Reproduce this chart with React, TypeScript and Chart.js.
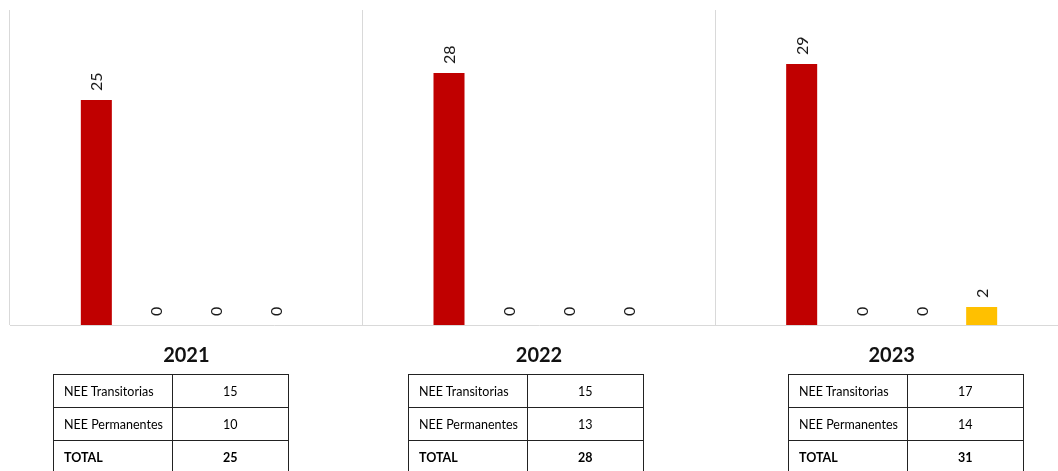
import React, { useEffect, useRef } from "react";
import { Chart, registerables } from "chart.js";

Chart.register(...registerables);

const years = ["2021", "2022", "2023"];
const seriesRed = [25, 28, 29];
const seriesB = [0, 0, 0];
const seriesC = [0, 0, 0];
const seriesYellow = [0, 0, 2];

const tableLabels = ["NEE Transitorias", "NEE Permanentes", "TOTAL"];
const transitorias = [15, 15, 17];
const permanentes = [10, 13, 14];
const totals = [25, 28, 31];
const tableLefts = [53, 408, 788];

const valueLabelPlugin = {
  id: "valueLabels",
  afterDatasetsDraw(chart: any) {
    const ctx = chart.ctx;
    ctx.save();
    ctx.font = "16px Lato";
    ctx.fillStyle = "#1a1a1a";
    ctx.textAlign = "left";
    ctx.textBaseline = "middle";
    chart.data.datasets.forEach((ds: any, di: number) => {
      const meta = chart.getDatasetMeta(di);
      meta.data.forEach((el: any, i: number) => {
        const v = ds.data[i];
        ctx.save();
        ctx.translate(el.x + 1, el.y - 9);
        ctx.rotate(-Math.PI / 2);
        ctx.fillText(String(v), 0, 0);
        ctx.restore();
      });
    });
    ctx.restore();
  },
};

function ChartBox() {
  const ref = useRef<HTMLCanvasElement | null>(null);
  useEffect(() => {
    if (!ref.current) return;
    const chart = new Chart(ref.current, {
      type: "bar",
      data: {
        labels: years,
        datasets: [
          { label: "Serie 1", data: seriesRed, backgroundColor: "#C00000" },
          { label: "Serie 2", data: seriesB, backgroundColor: "#A5A5A5" },
          { label: "Serie 3", data: seriesC, backgroundColor: "#4472C4" },
          { label: "Serie 4", data: seriesYellow, backgroundColor: "#FFC000" },
        ],
      },
      options: {
        responsive: false,
        animation: false,
        layout: { padding: { left: 10, right: 12, top: 10, bottom: 4 } },
        datasets: {
          bar: { categoryPercentage: 0.6805, barPercentage: 0.517 },
        },
        plugins: {
          legend: { display: false },
          tooltip: { enabled: false },
        },
        scales: {
          x: {
            grid: { display: true, color: "#d9d9d9", drawTicks: false, offset: true },
            border: { display: true, color: "#d9d9d9" },
            ticks: {
              color: "#111",
              font: { family: "Lato", size: 20, weight: "bold" },
              padding: 19,
              maxRotation: 0,
            },
          },
          y: {
            display: false,
            min: 0,
            max: 35,
          },
        },
      },
      plugins: [valueLabelPlugin],
    });
    return () => chart.destroy();
  }, []);
  return <canvas ref={ref} width={1080} height={391} />;
}

const cellBase: React.CSSProperties = {
  border: "1.5px solid #222",
  height: 33,
  padding: 0,
  boxSizing: "border-box",
};

export default function App() {
  return (
    <div
      style={{
        position: "fixed",
        left: 0,
        top: 0,
        width: 1058,
        height: 471,
        overflow: "hidden",
        background: "#fff",
        fontFamily: "Lato, sans-serif",
      }}
    >
      <div style={{ position: "absolute", left: 0, top: 0, width: 1080, height: 391 }}>
        <ChartBox />
      </div>
      {years.map((y, gi) => (
        <table
          key={y}
          style={{
            position: "absolute",
            left: tableLefts[gi],
            top: 374,
            width: 236,
            borderCollapse: "collapse",
            fontSize: 12.5,
            color: "#000",
          }}
        >
          <tbody>
            {tableLabels.map((lab, ri) => {
              const val = ri === 0 ? transitorias[gi] : ri === 1 ? permanentes[gi] : totals[gi];
              const bold = ri === 2;
              return (
                <tr key={lab}>
                  <td
                    style={{
                      ...cellBase,
                      width: 119,
                      paddingLeft: 10,
                      textAlign: "left",
                      fontWeight: bold ? 700 : 400,
                    }}
                  >
                    {lab}
                  </td>
                  <td
                    style={{
                      ...cellBase,
                      width: 117,
                      textAlign: "center",
                      fontWeight: bold ? 700 : 400,
                    }}
                  >
                    {val}
                  </td>
                </tr>
              );
            })}
          </tbody>
        </table>
      ))}
    </div>
  );
}
